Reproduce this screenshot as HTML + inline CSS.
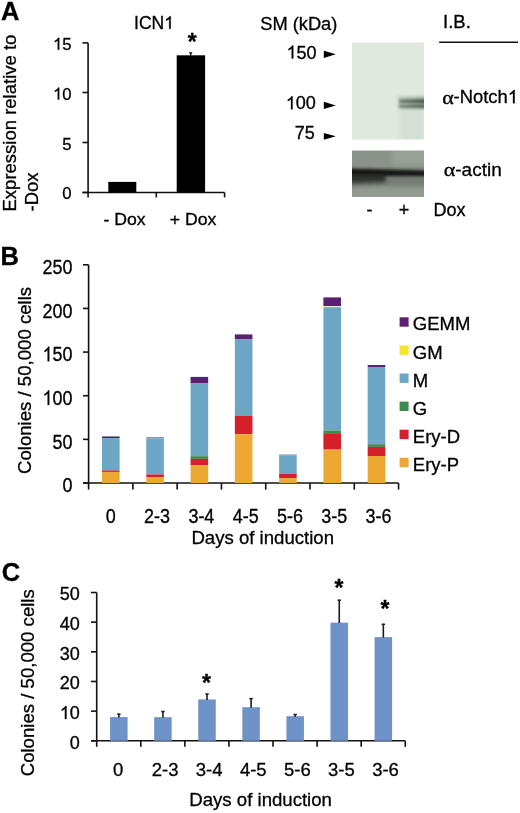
<!DOCTYPE html>
<html><head><meta charset="utf-8"><style>
html,body{margin:0;padding:0;background:#fff;}
svg{display:block;font-family:"Liberation Sans", sans-serif;will-change:transform;}
text{fill:#000;stroke:#000;stroke-width:0.3px;}
</style></head><body>
<svg width="520" height="813" viewBox="0 0 520 813">
<rect width="520" height="813" fill="#fff"/>
<text x="1.10" y="19.60" font-size="25.5" text-anchor="start" font-weight="bold" >A</text>
<text x="154.00" y="28.75" font-size="17.5" text-anchor="middle" font-weight="normal" >ICN </text>
<path d="M763,0 L583,0 L583,1147 Q518,1085 412,1023 Q306,961 223,930 L223,1104 Q373,1175 485,1276 Q597,1377 644,1472 L763,1472 Z" fill="#000" stroke="#000" stroke-width="0.3" vector-effect="non-scaling-stroke" transform="translate(164.20,28.75) scale(0.00854,-0.00854)"/>
<text transform="translate(16.00,211.50) rotate(-90)" font-size="18.5" text-anchor="start">Expression relative to</text>
<text transform="translate(38.10,211.50) rotate(-90)" font-size="18.5" text-anchor="start">-Dox</text>
<text x="71.60" y="49.80" font-size="16.7" text-anchor="end" font-weight="normal" > 5</text>
<path d="M763,0 L583,0 L583,1147 Q518,1085 412,1023 Q306,961 223,930 L223,1104 Q373,1175 485,1276 Q597,1377 644,1472 L763,1472 Z" fill="#000" stroke="#000" stroke-width="0.3" vector-effect="non-scaling-stroke" transform="translate(53.02,49.80) scale(0.00815,-0.00815)"/>
<text x="71.60" y="99.60" font-size="16.7" text-anchor="end" font-weight="normal" > 0</text>
<path d="M763,0 L583,0 L583,1147 Q518,1085 412,1023 Q306,961 223,930 L223,1104 Q373,1175 485,1276 Q597,1377 644,1472 L763,1472 Z" fill="#000" stroke="#000" stroke-width="0.3" vector-effect="non-scaling-stroke" transform="translate(53.02,99.60) scale(0.00815,-0.00815)"/>
<text x="71.60" y="149.50" font-size="16.7" text-anchor="end" font-weight="normal" >5</text>
<text x="71.60" y="199.20" font-size="16.7" text-anchor="end" font-weight="normal" >0</text>
<line x1="88.10" y1="42.90" x2="88.10" y2="197.40" stroke="#111" stroke-width="1.6"/>
<line x1="82.50" y1="42.90" x2="88.10" y2="42.90" stroke="#111" stroke-width="1.6"/>
<line x1="82.50" y1="92.50" x2="88.10" y2="92.50" stroke="#111" stroke-width="1.6"/>
<line x1="82.50" y1="142.50" x2="88.10" y2="142.50" stroke="#111" stroke-width="1.6"/>
<line x1="82.50" y1="192.50" x2="88.10" y2="192.50" stroke="#111" stroke-width="1.6"/>
<line x1="82.50" y1="192.50" x2="224.60" y2="192.50" stroke="#111" stroke-width="1.6"/>
<line x1="156.30" y1="192.50" x2="156.30" y2="197.40" stroke="#111" stroke-width="1.6"/>
<line x1="224.60" y1="192.50" x2="224.60" y2="197.40" stroke="#111" stroke-width="1.6"/>
<rect x="108.30" y="181.90" width="28.00" height="10.60" fill="#000"/>
<rect x="176.70" y="55.30" width="28.40" height="137.20" fill="#000"/>
<line x1="190.70" y1="52.60" x2="190.70" y2="55.50" stroke="#111" stroke-width="1.4"/>
<line x1="189.20" y1="52.90" x2="192.20" y2="52.90" stroke="#111" stroke-width="1.3"/>
<text x="187.70" y="50.00" font-size="23" text-anchor="start" font-weight="bold" >*</text>
<text transform="translate(124.50,224.60) scale(1.05,1)" font-size="16.8" text-anchor="middle">- Dox</text>
<text transform="translate(193.15,224.60) scale(1.05,1)" font-size="16.8" text-anchor="middle">+ Dox</text>
<text x="260.20" y="29.60" font-size="18.3" text-anchor="start" font-weight="normal" >SM (kDa)</text>
<text x="316.60" y="58.50" font-size="18" text-anchor="end" font-weight="normal" > 50</text>
<path d="M763,0 L583,0 L583,1147 Q518,1085 412,1023 Q306,961 223,930 L223,1104 Q373,1175 485,1276 Q597,1377 644,1472 L763,1472 Z" fill="#000" stroke="#000" stroke-width="0.3" vector-effect="non-scaling-stroke" transform="translate(286.57,58.50) scale(0.00879,-0.00879)"/>
<text x="315.90" y="109.30" font-size="18" text-anchor="end" font-weight="normal" > 00</text>
<path d="M763,0 L583,0 L583,1147 Q518,1085 412,1023 Q306,961 223,930 L223,1104 Q373,1175 485,1276 Q597,1377 644,1472 L763,1472 Z" fill="#000" stroke="#000" stroke-width="0.3" vector-effect="non-scaling-stroke" transform="translate(285.87,109.30) scale(0.00879,-0.00879)"/>
<text x="314.90" y="138.90" font-size="18" text-anchor="end" font-weight="normal" >75</text>
<polygon points="323.8,50.8 323.8,58.0 335.9,54.3" fill="#000"/>
<polygon points="323.8,101.8 323.8,109.0 335.9,105.5" fill="#000"/>
<polygon points="323.8,133.0 323.8,139.8 335.9,136.3" fill="#000"/>
<defs>

<filter id="b1" x="-30%" y="-60%" width="160%" height="220%"><feGaussianBlur stdDeviation="1.0"/></filter>
<filter id="b2" x="-30%" y="-60%" width="160%" height="220%"><feGaussianBlur stdDeviation="1.7"/></filter>
<filter id="b3" x="-10%" y="-30%" width="120%" height="160%"><feGaussianBlur stdDeviation="2.5"/></filter>
<linearGradient id="nb" x1="0" y1="0" x2="1" y2="0">
 <stop offset="0" stop-color="#708174"/><stop offset="0.5" stop-color="#566759"/><stop offset="1" stop-color="#3f5044"/>
</linearGradient>
<linearGradient id="nh" x1="0" y1="0" x2="1" y2="0">
 <stop offset="0" stop-color="#b6c2b5"/><stop offset="1" stop-color="#95a396"/>
</linearGradient>
<clipPath id="c1"><rect x="352" y="42.5" width="72" height="97"/></clipPath>
<clipPath id="c2"><rect x="352" y="150.7" width="72" height="46"/></clipPath>
</defs>
<rect x="352" y="42.5" width="72" height="97" fill="#e0e9de"/>
<g clip-path="url(#c1)">
<rect x="400" y="108" width="24" height="32" fill="#d6dfd5" filter="url(#b3)"/>
<rect x="398" y="96.6" width="28" height="12.6" fill="url(#nh)" filter="url(#b2)"/>
<g filter="url(#b1)">
<rect x="399.5" y="99.7" width="27" height="3.3" fill="url(#nb)"/>
<rect x="399.5" y="104.7" width="27" height="3.0" fill="url(#nb)" opacity="0.85"/>
</g>
</g>
<rect x="352" y="150.7" width="72" height="46" fill="#8b9489"/>
<g clip-path="url(#c2)">
<g filter="url(#b3)">
<rect x="340" y="140" width="60" height="22" fill="#899388"/>
<rect x="392" y="140" width="45" height="24" fill="#98a297"/>
<rect x="340" y="187" width="100" height="20" fill="#939b91"/>
<polygon points="345,175 384,175 390,184 345,186" fill="#4a5249"/>
<rect x="386" y="177" width="45" height="9" fill="#737c71"/>
</g>
<g filter="url(#b2)">
<polygon points="345,168.2 386,169.3 430,170.6 430,176.2 386,176.6 345,176.8" fill="#121812"/>
<polygon points="345,175 383,175 386,180.5 345,181.5" fill="#2b3229"/>
</g>
</g>

<text x="443.10" y="27.80" font-size="18.5" text-anchor="start" font-weight="normal" >I.B.</text>
<line x1="439.20" y1="42.30" x2="518.00" y2="42.30" stroke="#111" stroke-width="1.5"/>
<text transform="translate(442.2,103.9) scale(1.22,1)" font-size="18" font-family="Liberation Serif, serif">α</text>
<text x="453.60" y="103.30" font-size="18.4" text-anchor="start" font-weight="normal" >-Notch </text>
<path d="M763,0 L583,0 L583,1147 Q518,1085 412,1023 Q306,961 223,930 L223,1104 Q373,1175 485,1276 Q597,1377 644,1472 L763,1472 Z" fill="#000" stroke="#000" stroke-width="0.3" vector-effect="non-scaling-stroke" transform="translate(507.79,103.30) scale(0.00898,-0.00898)"/>
<text transform="translate(443.7,176.3) scale(1.22,1)" font-size="18" font-family="Liberation Serif, serif">α</text>
<text x="455.30" y="175.80" font-size="19" text-anchor="start" font-weight="normal" >-actin</text>
<text x="369.50" y="216.00" font-size="18" text-anchor="middle" font-weight="normal" >-</text>
<text x="403.90" y="216.00" font-size="18" text-anchor="middle" font-weight="normal" >+</text>
<text x="433.60" y="216.00" font-size="18" text-anchor="start" font-weight="normal" >Dox</text>
<text x="0.50" y="265.40" font-size="25.5" text-anchor="start" font-weight="bold" >B</text>
<text transform="translate(31.00,474.00) rotate(-90)" font-size="18.6" text-anchor="start">Colonies / 50,000 cells</text>
<text transform="translate(72.50,274.00) scale(0.97,1.09)" font-size="18.5" text-anchor="end">250</text>
<line x1="83.00" y1="264.80" x2="88.60" y2="264.80" stroke="#111" stroke-width="1.6"/>
<text transform="translate(72.50,317.64) scale(0.97,1.09)" font-size="18.5" text-anchor="end">200</text>
<line x1="83.00" y1="308.44" x2="88.60" y2="308.44" stroke="#111" stroke-width="1.6"/>
<text transform="translate(72.50,361.28) scale(0.97,1.09)" font-size="18.5" text-anchor="end"> 50</text>
<path d="M763,0 L583,0 L583,1147 Q518,1085 412,1023 Q306,961 223,930 L223,1104 Q373,1175 485,1276 Q597,1377 644,1472 L763,1472 Z" fill="#000" stroke="#000" stroke-width="0.3" vector-effect="non-scaling-stroke" transform="translate(42.56,361.28) scale(0.00876,-0.00985)"/>
<line x1="83.00" y1="352.08" x2="88.60" y2="352.08" stroke="#111" stroke-width="1.6"/>
<text transform="translate(72.50,404.92) scale(0.97,1.09)" font-size="18.5" text-anchor="end"> 00</text>
<path d="M763,0 L583,0 L583,1147 Q518,1085 412,1023 Q306,961 223,930 L223,1104 Q373,1175 485,1276 Q597,1377 644,1472 L763,1472 Z" fill="#000" stroke="#000" stroke-width="0.3" vector-effect="non-scaling-stroke" transform="translate(42.56,404.92) scale(0.00876,-0.00985)"/>
<line x1="83.00" y1="395.72" x2="88.60" y2="395.72" stroke="#111" stroke-width="1.6"/>
<text transform="translate(72.50,448.56) scale(0.97,1.09)" font-size="18.5" text-anchor="end">50</text>
<line x1="83.00" y1="439.36" x2="88.60" y2="439.36" stroke="#111" stroke-width="1.6"/>
<text transform="translate(72.50,492.20) scale(0.97,1.09)" font-size="18.5" text-anchor="end">0</text>
<line x1="83.00" y1="483.00" x2="88.60" y2="483.00" stroke="#111" stroke-width="1.6"/>
<line x1="88.60" y1="264.80" x2="88.60" y2="489.60" stroke="#111" stroke-width="1.6"/>
<line x1="83.00" y1="483.00" x2="398.60" y2="483.00" stroke="#111" stroke-width="1.6"/>
<line x1="132.88" y1="483.00" x2="132.88" y2="489.60" stroke="#111" stroke-width="1.6"/>
<line x1="177.16" y1="483.00" x2="177.16" y2="489.60" stroke="#111" stroke-width="1.6"/>
<line x1="221.44" y1="483.00" x2="221.44" y2="489.60" stroke="#111" stroke-width="1.6"/>
<line x1="265.72" y1="483.00" x2="265.72" y2="489.60" stroke="#111" stroke-width="1.6"/>
<line x1="310.00" y1="483.00" x2="310.00" y2="489.60" stroke="#111" stroke-width="1.6"/>
<line x1="354.28" y1="483.00" x2="354.28" y2="489.60" stroke="#111" stroke-width="1.6"/>
<line x1="398.56" y1="483.00" x2="398.56" y2="489.60" stroke="#111" stroke-width="1.6"/>
<rect x="102.00" y="436.50" width="17.60" height="1.60" fill="#2e2d58"/>
<rect x="102.00" y="438.10" width="17.60" height="32.30" fill="#6ea7c6"/>
<rect x="102.00" y="470.40" width="17.60" height="1.50" fill="#c0202e"/>
<rect x="102.00" y="471.90" width="17.60" height="11.10" fill="#eda833"/>
<text transform="translate(110.80,522.90) scale(0.97,1.09)" font-size="18.5" text-anchor="middle">0</text>
<rect x="146.28" y="437.30" width="17.60" height="1.00" fill="#55698a"/>
<rect x="146.28" y="438.30" width="17.60" height="36.20" fill="#6ea7c6"/>
<rect x="146.28" y="474.50" width="17.60" height="2.80" fill="#d4202a"/>
<rect x="146.28" y="477.30" width="17.60" height="5.70" fill="#eda833"/>
<text transform="translate(157.08,522.90) scale(0.97,1.09)" font-size="18.5" text-anchor="middle">2-3</text>
<rect x="190.56" y="376.90" width="17.60" height="6.60" fill="#5a2170"/>
<rect x="190.56" y="383.50" width="17.60" height="72.70" fill="#6ea7c6"/>
<rect x="190.56" y="456.20" width="17.60" height="2.70" fill="#3f8a4c"/>
<rect x="190.56" y="458.90" width="17.60" height="6.20" fill="#d4202a"/>
<rect x="190.56" y="465.10" width="17.60" height="17.90" fill="#eda833"/>
<text transform="translate(201.36,522.90) scale(0.97,1.09)" font-size="18.5" text-anchor="middle">3-4</text>
<rect x="234.84" y="334.40" width="17.60" height="5.10" fill="#5a2170"/>
<rect x="234.84" y="339.50" width="17.60" height="75.90" fill="#6ea7c6"/>
<rect x="234.84" y="415.40" width="17.60" height="0.60" fill="#3f8a4c"/>
<rect x="234.84" y="416.00" width="17.60" height="18.20" fill="#d4202a"/>
<rect x="234.84" y="434.20" width="17.60" height="48.80" fill="#eda833"/>
<text transform="translate(245.64,522.90) scale(0.97,1.09)" font-size="18.5" text-anchor="middle">4-5</text>
<rect x="279.12" y="454.60" width="17.60" height="0.90" fill="#5a6f8a"/>
<rect x="279.12" y="455.50" width="17.60" height="18.30" fill="#6ea7c6"/>
<rect x="279.12" y="473.80" width="17.60" height="4.30" fill="#d4202a"/>
<rect x="279.12" y="478.10" width="17.60" height="4.90" fill="#eda833"/>
<text transform="translate(289.92,522.90) scale(0.97,1.09)" font-size="18.5" text-anchor="middle">5-6</text>
<rect x="323.40" y="297.40" width="17.60" height="8.80" fill="#5a2170"/>
<rect x="323.40" y="306.20" width="17.60" height="1.00" fill="#eef0c8"/>
<rect x="323.40" y="307.20" width="17.60" height="123.30" fill="#6ea7c6"/>
<rect x="323.40" y="430.50" width="17.60" height="2.70" fill="#3f8a4c"/>
<rect x="323.40" y="433.20" width="17.60" height="16.40" fill="#d4202a"/>
<rect x="323.40" y="449.60" width="17.60" height="33.40" fill="#eda833"/>
<text transform="translate(334.20,522.90) scale(0.97,1.09)" font-size="18.5" text-anchor="middle">3-5</text>
<rect x="367.68" y="365.00" width="17.60" height="2.00" fill="#5a2170"/>
<rect x="367.68" y="367.00" width="17.60" height="77.20" fill="#6ea7c6"/>
<rect x="367.68" y="444.20" width="17.60" height="2.70" fill="#3f8a4c"/>
<rect x="367.68" y="446.90" width="17.60" height="9.10" fill="#d4202a"/>
<rect x="367.68" y="456.00" width="17.60" height="27.00" fill="#eda833"/>
<text transform="translate(378.48,522.90) scale(0.97,1.09)" font-size="18.5" text-anchor="middle">3-6</text>
<text x="191.40" y="543.50" font-size="18.6" text-anchor="start" font-weight="normal" >Days of induction</text>
<rect x="399.60" y="317.30" width="9.00" height="9.40" fill="#5a2170"/>
<text x="412.80" y="330.40" font-size="18.5" text-anchor="start" font-weight="normal" >GEMM</text>
<rect x="399.60" y="345.40" width="9.00" height="9.40" fill="#f2e52f"/>
<text x="412.80" y="358.50" font-size="18.5" text-anchor="start" font-weight="normal" >GM</text>
<rect x="399.60" y="373.50" width="9.00" height="9.40" fill="#6ea7c6"/>
<text x="412.80" y="386.60" font-size="18.5" text-anchor="start" font-weight="normal" >M</text>
<rect x="399.60" y="401.60" width="9.00" height="9.40" fill="#3f8a4c"/>
<text x="412.80" y="414.70" font-size="18.5" text-anchor="start" font-weight="normal" >G</text>
<rect x="399.60" y="429.70" width="9.00" height="9.40" fill="#d4202a"/>
<text x="412.80" y="442.80" font-size="18.5" text-anchor="start" font-weight="normal" >Ery-D</text>
<rect x="399.60" y="457.80" width="9.00" height="9.40" fill="#eda833"/>
<text x="412.80" y="470.90" font-size="18.5" text-anchor="start" font-weight="normal" >Ery-P</text>
<text x="1.70" y="581.20" font-size="25.5" text-anchor="start" font-weight="bold" >C</text>
<text transform="translate(33.70,776.30) rotate(-90)" font-size="18.6" text-anchor="start">Colonies / 50,000 cells</text>
<text x="79.80" y="600.30" font-size="18" text-anchor="end" font-weight="normal" >50</text>
<line x1="91.00" y1="592.50" x2="96.70" y2="592.50" stroke="#111" stroke-width="1.6"/>
<text x="79.80" y="629.96" font-size="18" text-anchor="end" font-weight="normal" >40</text>
<line x1="91.00" y1="622.16" x2="96.70" y2="622.16" stroke="#111" stroke-width="1.6"/>
<text x="79.80" y="659.62" font-size="18" text-anchor="end" font-weight="normal" >30</text>
<line x1="91.00" y1="651.82" x2="96.70" y2="651.82" stroke="#111" stroke-width="1.6"/>
<text x="79.80" y="689.28" font-size="18" text-anchor="end" font-weight="normal" >20</text>
<line x1="91.00" y1="681.48" x2="96.70" y2="681.48" stroke="#111" stroke-width="1.6"/>
<text x="79.80" y="718.94" font-size="18" text-anchor="end" font-weight="normal" > 0</text>
<path d="M763,0 L583,0 L583,1147 Q518,1085 412,1023 Q306,961 223,930 L223,1104 Q373,1175 485,1276 Q597,1377 644,1472 L763,1472 Z" fill="#000" stroke="#000" stroke-width="0.3" vector-effect="non-scaling-stroke" transform="translate(59.78,718.94) scale(0.00879,-0.00879)"/>
<line x1="91.00" y1="711.14" x2="96.70" y2="711.14" stroke="#111" stroke-width="1.6"/>
<text x="79.80" y="748.60" font-size="18" text-anchor="end" font-weight="normal" >0</text>
<line x1="91.00" y1="740.80" x2="96.70" y2="740.80" stroke="#111" stroke-width="1.6"/>
<line x1="96.70" y1="592.50" x2="96.70" y2="746.80" stroke="#111" stroke-width="1.6"/>
<line x1="91.00" y1="740.80" x2="405.20" y2="740.80" stroke="#111" stroke-width="1.6"/>
<line x1="140.78" y1="740.80" x2="140.78" y2="746.80" stroke="#111" stroke-width="1.6"/>
<line x1="184.86" y1="740.80" x2="184.86" y2="746.80" stroke="#111" stroke-width="1.6"/>
<line x1="228.94" y1="740.80" x2="228.94" y2="746.80" stroke="#111" stroke-width="1.6"/>
<line x1="273.02" y1="740.80" x2="273.02" y2="746.80" stroke="#111" stroke-width="1.6"/>
<line x1="317.10" y1="740.80" x2="317.10" y2="746.80" stroke="#111" stroke-width="1.6"/>
<line x1="361.18" y1="740.80" x2="361.18" y2="746.80" stroke="#111" stroke-width="1.6"/>
<line x1="405.26" y1="740.80" x2="405.26" y2="746.80" stroke="#111" stroke-width="1.6"/>
<rect x="110.10" y="717.10" width="17.50" height="23.70" fill="#6f93c8"/>
<line x1="118.85" y1="713.80" x2="118.85" y2="717.60" stroke="#1a1a2a" stroke-width="1.6"/>
<line x1="117.15" y1="714.20" x2="120.55" y2="714.20" stroke="#1a1a2a" stroke-width="1.5"/>
<text x="118.25" y="776.20" font-size="18.5" text-anchor="middle" font-weight="normal" >0</text>
<rect x="154.18" y="717.20" width="17.50" height="23.60" fill="#6f93c8"/>
<line x1="162.93" y1="711.10" x2="162.93" y2="717.70" stroke="#1a1a2a" stroke-width="1.6"/>
<line x1="161.23" y1="711.50" x2="164.63" y2="711.50" stroke="#1a1a2a" stroke-width="1.5"/>
<text x="165.13" y="776.20" font-size="18.5" text-anchor="middle" font-weight="normal" >2-3</text>
<rect x="198.26" y="699.40" width="17.50" height="41.40" fill="#6f93c8"/>
<line x1="207.01" y1="693.70" x2="207.01" y2="699.90" stroke="#1a1a2a" stroke-width="1.6"/>
<line x1="205.31" y1="694.10" x2="208.71" y2="694.10" stroke="#1a1a2a" stroke-width="1.5"/>
<text x="209.21" y="776.20" font-size="18.5" text-anchor="middle" font-weight="normal" >3-4</text>
<rect x="242.34" y="707.20" width="17.50" height="33.60" fill="#6f93c8"/>
<line x1="251.09" y1="698.20" x2="251.09" y2="707.70" stroke="#1a1a2a" stroke-width="1.6"/>
<line x1="249.39" y1="698.60" x2="252.79" y2="698.60" stroke="#1a1a2a" stroke-width="1.5"/>
<text x="253.29" y="776.20" font-size="18.5" text-anchor="middle" font-weight="normal" >4-5</text>
<rect x="286.42" y="716.20" width="17.50" height="24.60" fill="#6f93c8"/>
<line x1="295.17" y1="714.10" x2="295.17" y2="716.70" stroke="#1a1a2a" stroke-width="1.6"/>
<line x1="293.47" y1="714.50" x2="296.87" y2="714.50" stroke="#1a1a2a" stroke-width="1.5"/>
<text x="297.37" y="776.20" font-size="18.5" text-anchor="middle" font-weight="normal" >5-6</text>
<rect x="330.50" y="622.60" width="17.50" height="118.20" fill="#6f93c8"/>
<line x1="339.25" y1="599.80" x2="339.25" y2="623.10" stroke="#1a1a2a" stroke-width="1.6"/>
<line x1="337.55" y1="600.20" x2="340.95" y2="600.20" stroke="#1a1a2a" stroke-width="1.5"/>
<text x="341.45" y="776.20" font-size="18.5" text-anchor="middle" font-weight="normal" >3-5</text>
<rect x="374.58" y="637.10" width="17.50" height="103.70" fill="#6f93c8"/>
<line x1="383.33" y1="623.90" x2="383.33" y2="637.60" stroke="#1a1a2a" stroke-width="1.6"/>
<line x1="381.63" y1="624.30" x2="385.03" y2="624.30" stroke="#1a1a2a" stroke-width="1.5"/>
<text x="385.53" y="776.20" font-size="18.5" text-anchor="middle" font-weight="normal" >3-6</text>
<text x="201.90" y="691.30" font-size="23" text-anchor="start" font-weight="bold" >*</text>
<text x="334.50" y="595.50" font-size="23" text-anchor="start" font-weight="bold" >*</text>
<text x="380.40" y="617.10" font-size="23" text-anchor="start" font-weight="bold" >*</text>
<text x="189.30" y="806.20" font-size="18.6" text-anchor="start" font-weight="normal" >Days of induction</text>
</svg>
</body></html>
